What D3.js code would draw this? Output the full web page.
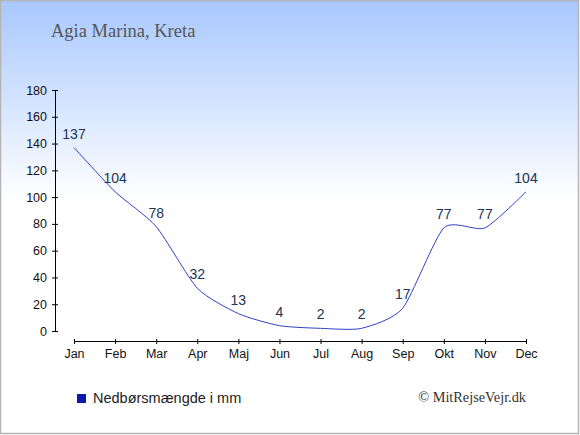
<!DOCTYPE html>
<html>
<head>
<meta charset="utf-8">
<script src="https://cdn.jsdelivr.net/npm/d3@7"></script>
<style>
  body { margin: 0; }
  svg { display: block; }
</style>
</head>
<body>
<div id="chart"></div>
<script>
// Data
var months = ['Jan', 'Feb', 'Mar', 'Apr', 'Maj', 'Jun', 'Jul', 'Aug', 'Sep', 'Okt', 'Nov', 'Dec'];
var rain = [137, 104, 78, 32, 13, 4, 2, 2, 17, 77, 77, 104];
var yTicks = [0, 20, 40, 60, 80, 100, 120, 140, 160, 180];

var width = 580;
var height = 435;

var svg = d3.select('#chart').append('svg')
  .attr('width', width)
  .attr('height', height);

// background gradient
var grad = svg.append('defs').append('linearGradient')
  .attr('id', 'bg')
  .attr('x1', 0).attr('y1', 0).attr('x2', 0).attr('y2', 1);
grad.append('stop').attr('offset', '0%').attr('stop-color', '#a8c8ff');
grad.append('stop').attr('offset', '46%').attr('stop-color', '#ffffff');
grad.append('stop').attr('offset', '100%').attr('stop-color', '#ffffff');

svg.append('rect')
  .attr('x', 0.5).attr('y', 0.5)
  .attr('width', width - 2).attr('height', height - 2)
  .attr('fill', 'url(#bg)')
  .attr('stroke', '#b4b4b4')
  .attr('stroke-width', 1.5);

svg.append('text')
  .attr('x', 51).attr('y', 36.5)
  .attr('font-family', 'Liberation Serif, serif')
  .attr('font-size', 18.5)
  .attr('fill', '#555')
  .text('Agia Marina, Kreta');

var x = d3.scalePoint().domain(months).range([74, 526]);
var y = d3.scaleLinear().domain([0, 180]).range([331, 90]);

// y axis
var yAxis = svg.append('g')
  .attr('transform', 'translate(55,0)')
  .call(d3.axisLeft(y).tickValues(yTicks).tickSizeInner(3).tickSizeOuter(0).tickPadding(5));
yAxis.selectAll('.tick line').attr('x1', 3).attr('x2', -3);
yAxis.selectAll('text')
  .attr('font-family', 'Liberation Sans, Arial, sans-serif')
  .attr('font-size', 12.5)
  .attr('fill', '#111');
yAxis.select('.domain').attr('stroke', '#000');

// x axis
var xAxis = svg.append('g')
  .attr('transform', 'translate(0,341)')
  .call(d3.axisBottom(x).tickSizeInner(3).tickSizeOuter(0).tickPadding(5));
xAxis.selectAll('.tick line').attr('y1', -2).attr('y2', 3);
xAxis.selectAll('text')
  .attr('font-family', 'Liberation Sans, Arial, sans-serif')
  .attr('font-size', 12.5)
  .attr('fill', '#111');
xAxis.select('.domain').attr('stroke', '#000');

// line
var line = d3.line()
  .x(function(d, i) { return x(months[i]); })
  .y(function(d) { return y(d); })
  .curve(d3.curveCardinal.tension(0.35));

svg.append('path')
  .datum(rain)
  .attr('d', line)
  .attr('fill', 'none')
  .attr('stroke', '#3040c8')
  .attr('stroke-width', 1);

// value labels
svg.append('g').selectAll('text')
  .data(rain)
  .enter().append('text')
  .attr('x', function(d, i) { return x(months[i]); })
  .attr('y', function(d) { return y(d) - 9; })
  .attr('text-anchor', 'middle')
  .attr('font-family', 'Liberation Sans, Arial, sans-serif')
  .attr('font-size', 14)
  .attr('fill', '#223355')
  .text(function(d) { return d; });

// legend
svg.append('rect')
  .attr('x', 77).attr('y', 394)
  .attr('width', 9).attr('height', 9)
  .attr('fill', '#0a1aaa');
svg.append('text')
  .attr('x', 93).attr('y', 403)
  .attr('font-family', 'Liberation Sans, Arial, sans-serif')
  .attr('font-size', 14.5)
  .attr('fill', '#222')
  .text('Nedbørsmængde i mm');

svg.append('text')
  .attr('x', 526).attr('y', 402)
  .attr('text-anchor', 'end')
  .attr('font-family', 'Liberation Serif, serif')
  .attr('font-size', 14.3)
  .attr('fill', '#333')
  .text('© MitRejseVejr.dk');
</script>
</body>
</html>
